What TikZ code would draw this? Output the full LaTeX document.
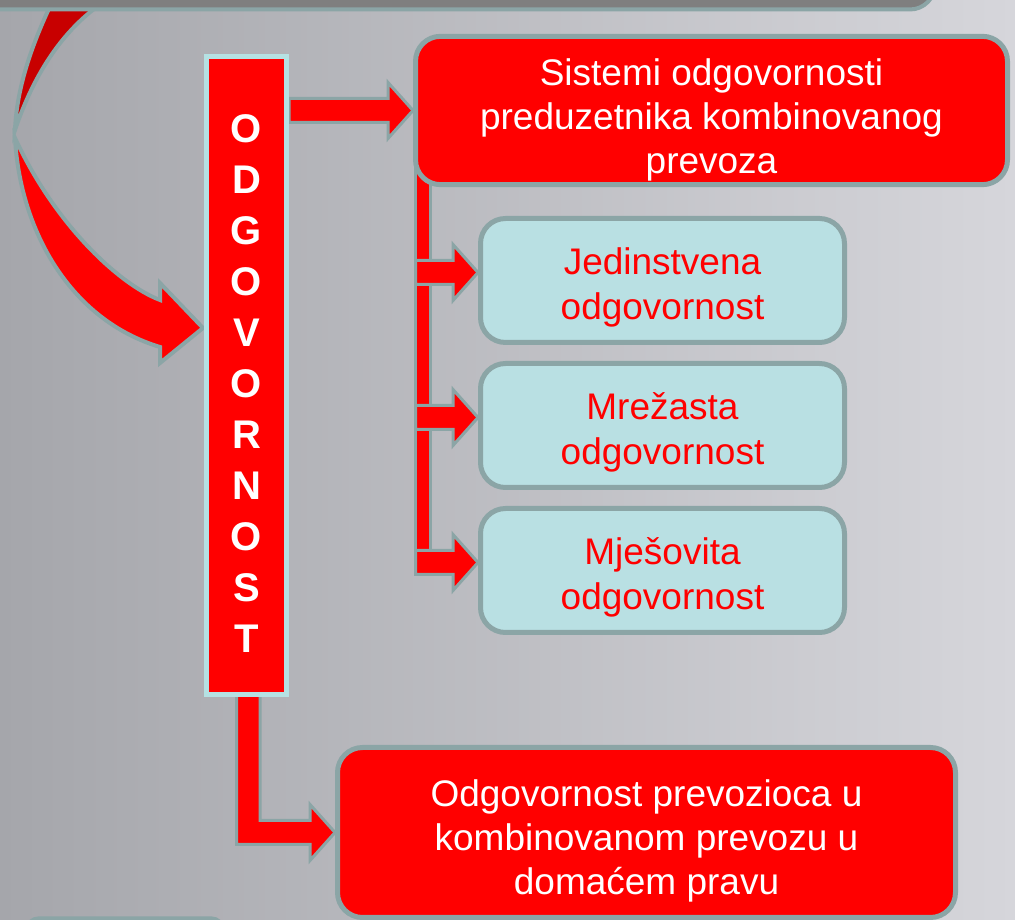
\documentclass[tikz,border=0pt]{standalone}
\usepackage{fontspec}
\setmainfont{Liberation Sans}
\usepackage{tikz}
\usetikzlibrary{positioning,calc}

\definecolor{boxred}{RGB}{255,0,0}
\definecolor{backred}{RGB}{200,0,0}
\definecolor{edgegray}{RGB}{139,165,166}
\definecolor{boxcyan}{RGB}{185,224,227}
\definecolor{odgedge}{RGB}{181,225,227}
\definecolor{topgray}{RGB}{127,127,127}
\definecolor{bgleft}{RGB}{165,166,171}
\definecolor{bgright}{RGB}{214,214,219}

\pgfdeclarelayer{back}
\pgfsetlayers{back,main}

% extra room above the first line of a box
\newcommand{\toproom}[1]{\rule{0pt}{#1}}

\tikzset{
  redbox/.style={draw=edgegray, line width=5pt, fill=boxred, rounded corners=25pt,
    text=white, align=center, font=\fontsize{37}{44}\selectfont},
  cyanbox/.style={draw=edgegray, line width=5pt, fill=boxcyan, rounded corners=25pt,
    text=boxred, align=center, font=\fontsize{37}{45}\selectfont,
    minimum width=364pt, minimum height=124pt},
  odgbox/.style={draw=odgedge, line width=5pt, fill=boxred, text=white, align=center,
    font=\fontsize{40}{51}\selectfont\bfseries, minimum width=80pt, minimum height=638pt},
  blockarrow/.style={fill=boxred, draw=edgegray, line width=3pt, line join=miter},
}

% horizontal block arrow from #1 to tip #2
\newcommand{\harrow}[2]{%
  \path[blockarrow] ($(#1)+(0,12)$) -- ($(#2)+(-25,12)$) -- ($(#2)+(-25,28)$) -- (#2)
    -- ($(#2)+(-25,-28)$) -- ($(#2)+(-25,-12)$) -- ($(#1)+(0,-12)$) -- cycle;}

\begin{document}
\begin{tikzpicture}[x=1pt, y=1pt]
    \clip (0,0) rectangle (1015,920);

    \node[odgbox] (odg) at (246.5,544) {\toproom{43pt}O\\D\\G\\O\\V\\O\\R\\N\\O\\S\\T};
    \node[redbox, minimum width=592pt, minimum height=140pt] (sys) at (711.5,809.5)
        {\toproom{46pt}Sistemi odgovornosti\\preduzetnika kombinovanog\\prevoza};
    \node[cyanbox] (jed) at (662.5,639.5) {\toproom{41pt}Jedinstvena\\odgovornost};
    \node[cyanbox, below=16pt of jed] (mre) {\toproom{41pt}Mrežasta\\odgovornost};
    \node[cyanbox, below=16pt of mre] (mje) {\toproom{41pt}Mješovita\\odgovornost};
    \node[redbox, minimum width=618pt, minimum height=170pt] (bot) at (646.5,87.5)
        {\toproom{44pt}Odgovornost prevozioca u\\kombinovanom prevozu u\\domaćem pravu};

    \begin{pgfonlayer}{back}
    \shade[left color=bgleft, right color=bgright] (0,0) rectangle (1015,920);

    % curved arrow coming from the top
    \path[fill=backred, draw=edgegray, line width=4pt] (58,930) .. controls (38,890) and (17,840) .. (15,790)
        .. controls (42,870) and (84,910) .. (124,930) -- cycle;
    \path[blockarrow, line width=4pt] (15,782) .. controls (20,690) and (70,600) .. (160,573)
        -- (160,557) -- (203,592) -- (160,637) -- (160,620)
        .. controls (120,635) and (55,695) .. (15,782) -- cycle;
    \draw[fill=topgray, draw=edgegray, line width=4pt, rounded corners=25pt]
        (-40,960) rectangle (935,910.5);
    % edge of a box below the page
    \draw[fill=bgleft, draw=edgegray, line width=4pt, rounded corners=10pt]
        (28,-40) rectangle (222,1.5);

    % connectors
    \harrow{odg.east |- sys.west}{sys.west}
    \path[blockarrow] ($(sys.south west)+(2.5,20)$) rectangle ($(sys.south west |- mje.west)+(17,-4)$);
    \foreach \b in {jed,mre,mje} {
        \coordinate (\b0) at ($(sys.south west |- \b.west)+(2.5,8)$);
        \coordinate (\b1) at ($(\b.west)+(0,8)$);
        \harrow{\b0}{\b1}
    }
    \path[blockarrow] ($(odg.south)+(-10,20)$) |- ($(bot.west)+(-25,-12)$) -- ($(bot.west)+(-25,-28)$)
        -- (bot.west) -- ($(bot.west)+(-25,28)$) -- ($(bot.west)+(-25,12)$) -| ($(odg.south)+(13.5,20)$) -- cycle;
    \end{pgfonlayer}
\end{tikzpicture}
\end{document}
